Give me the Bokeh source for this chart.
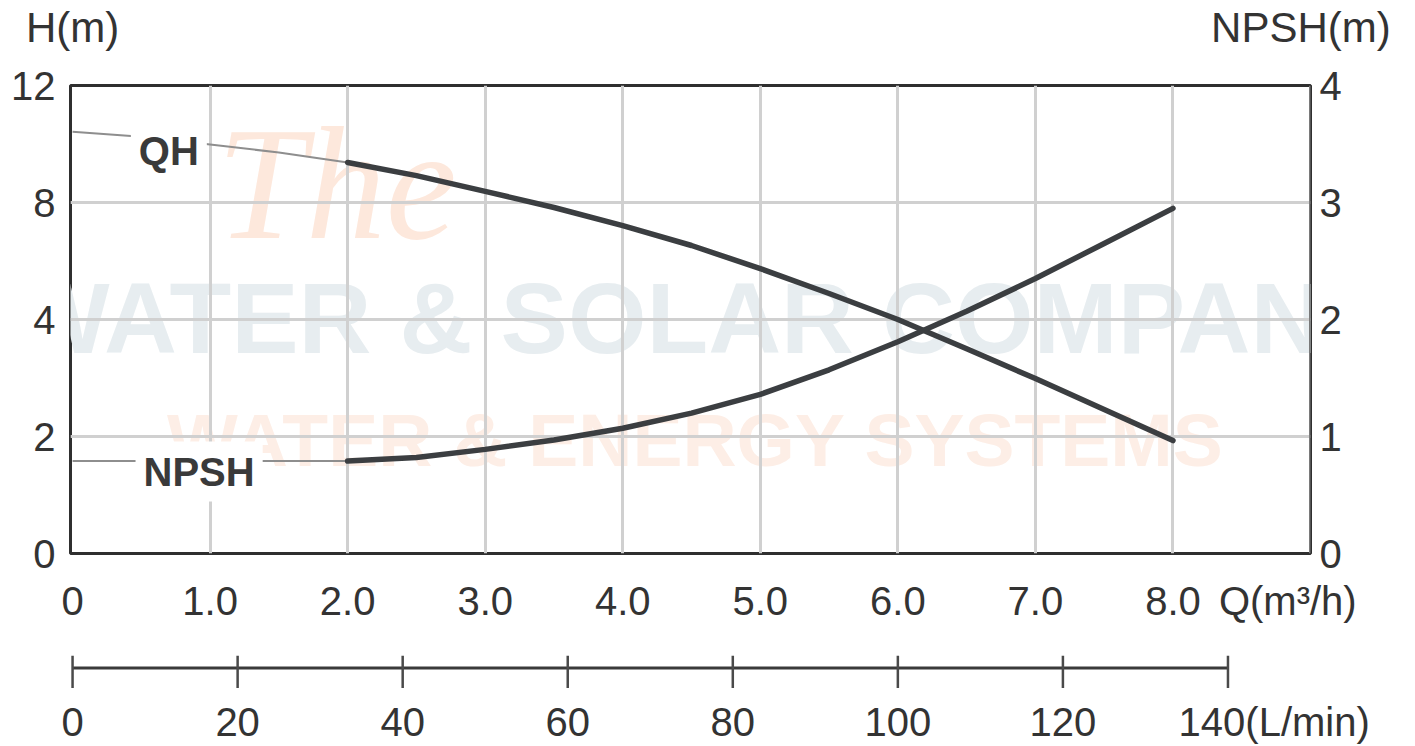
import numpy as np
from bokeh.plotting import figure
from bokeh.models import Range1d, LinearAxis, FixedTicker, Label, Span, Grid
from bokeh.layouts import column
from bokeh.embed import file_html
from bokeh.resources import INLINE

# Pump performance: flow in m³/h
flow = [0.0, 0.5, 1.0, 1.5, 2.0, 2.5, 3.0, 3.5, 4.0, 4.5, 5.0, 5.5, 6.0, 6.5, 7.0, 7.5, 8.0]
# Head H (m) along the QH curve
qh_head = [10.42, 10.25, 9.98, 9.71, 9.37, 8.92, 8.38, 7.83, 7.21, 6.53,
           5.74, 4.89, 4.00, 3.50, 2.99, 2.46, 1.93]
# Required NPSH (m)
npsh_req = [0.79, 0.79, 0.79, 0.79, 0.79, 0.82, 0.89, 0.97, 1.07, 1.20,
            1.36, 1.57, 1.81, 2.07, 2.35, 2.65, 2.95]

# Head axis labels sit on evenly spaced grid rows
head_ticks = [0, 2, 4, 8, 12]
npsh_ticks = [0, 1, 2, 3, 4]
flow_ticks = [0, 1, 2, 3, 4, 5, 6, 7, 8]
flow_tick_labels = ["0", "1.0", "2.0", "3.0", "4.0", "5.0", "6.0", "7.0", "8.0"]
lmin_ticks = [0, 20, 40, 60, 80, 100, 120, 140]

FONT = "Liberation Sans"
INK = "#333333"
CURVE = "#3b3e41"
THIN = "#8e8e8e"
LABEL_SIZE = "40px"

W = 1415
LEFT, RIGHT = 70, 105

grid_rows = list(range(len(head_ticks)))
qh_row = np.interp(qh_head, head_ticks, grid_rows)   # head -> grid row position
split = flow.index(2.0)

M3H_TO_LMIN = 1000.0 / 60.0
x_lo, x_hi = -0.015, 9.0

p = figure(width=W, height=630, x_range=Range1d(x_lo, x_hi), y_range=Range1d(0, 4),
           output_backend="svg", toolbar_location=None,
           x_axis_location=None, y_axis_location=None,
           min_border_left=LEFT, min_border_right=RIGHT, min_border_top=85, min_border_bottom=77,
           outline_line_color="#2f2f2f", outline_line_width=3,
           background_fill_color="white", border_fill_color="white")
p.center = [r for r in p.center if not isinstance(r, Grid)]


def style_axis(ax, standoff, size=LABEL_SIZE):
    ax.axis_line_color = None
    ax.major_tick_line_color = None
    ax.minor_tick_line_color = None
    ax.major_tick_in = 0
    ax.major_tick_out = 0
    ax.major_label_standoff = standoff
    ax.major_label_text_font = FONT
    ax.major_label_text_font_size = size
    ax.major_label_text_color = INK


# flow axis, with the unit written after the last value
q_unit_at = 8.835
bottom = LinearAxis(ticker=FixedTicker(ticks=flow_ticks + [q_unit_at]),
                    major_label_overrides={**dict(zip(flow_ticks, flow_tick_labels)),
                                           q_unit_at: "Q(m³/h)"})
style_axis(bottom, 25)
p.add_layout(bottom, "below")

left = LinearAxis(ticker=FixedTicker(ticks=grid_rows),
                  major_label_overrides={r: str(h) for r, h in zip(grid_rows, head_ticks)})
style_axis(left, 15)
p.add_layout(left, "left")

right = LinearAxis(ticker=FixedTicker(ticks=npsh_ticks))
style_axis(right, 9)
p.add_layout(right, "right")

# axis titles above the frame, over each vertical axis
title_pos = [0.0, 8.93]
titles = LinearAxis(ticker=FixedTicker(ticks=title_pos),
                    major_label_overrides=dict(zip(title_pos, ["H(m)", "NPSH(m)"])))
style_axis(titles, 35, "42px")
p.add_layout(titles, "above")

# grid
p.add_layout(Grid(dimension=0, ticker=FixedTicker(ticks=flow_ticks[1:]),
                  grid_line_color="#d0d0d0", grid_line_width=3))
p.add_layout(Grid(dimension=1, ticker=FixedTicker(ticks=npsh_ticks[1:-1]),
                  grid_line_color="#d0d0d0", grid_line_width=3))
p.add_layout(Span(location=x_hi, dimension="height", line_color="#7a7a7a", line_width=3))

# faint company watermark behind the chart
wm = [
    dict(text="WATER & SOLAR COMPANY", x=4.58, y=2.01, size="101px", color="#e7edf0", font=FONT, style="bold"),
    dict(text="WATER & ENERGY SYSTEMS", x=4.53, y=0.97, size="75px", color="#fdeee6", font=FONT, style="bold"),
    dict(text="The", x=1.92, y=3.16, size="160px", color="#fde8dc", font="Liberation Serif", style="italic"),
]
for w in wm:
    p.add_layout(Label(x=w["x"], y=w["y"], text=w["text"], text_font=w["font"],
                       text_font_size=w["size"], text_font_style=w["style"],
                       text_color=w["color"], text_align="center", text_baseline="middle",
                       level="image"))

# curves: thin lead-in up to 2.0 m³/h, heavy line beyond
p.line(flow[:split + 1], qh_row[:split + 1], line_color=THIN, line_width=2)
p.line(flow[split:], qh_row[split:], line_color=CURVE, line_width=5.5, line_cap="round")
p.line(flow[:split + 1], npsh_req[:split + 1], line_color=THIN, line_width=2)
p.line(flow[split:], npsh_req[split:], line_color=CURVE, line_width=5.5, line_cap="round")

for txt, x, y in [("QH", 0.70, 3.44), ("NPSH", 0.92, 0.70)]:
    p.add_layout(Label(x=x, y=y, text=txt, text_font=FONT, text_font_size=LABEL_SIZE,
                       text_font_style="bold", text_color="#3a3a3a",
                       text_align="center", text_baseline="middle",
                       background_fill_color="white", padding=8))

# second scale: the same flow expressed in L/min; y is measured in pixels from the scale line
q = figure(width=W, height=116,
           x_range=Range1d(x_lo * M3H_TO_LMIN, x_hi * M3H_TO_LMIN), y_range=Range1d(-26, 43),
           output_backend="svg", toolbar_location=None,
           x_axis_location=None, y_axis_location=None,
           min_border_left=LEFT, min_border_right=RIGHT, min_border_top=0, min_border_bottom=47,
           outline_line_color=None, background_fill_color="white", border_fill_color="white")
q.center = [r for r in q.center if not isinstance(r, Grid)]

q.line([lmin_ticks[0], lmin_ticks[-1]], [0, 0], line_color="#3a3a3a", line_width=3)
q.segment(x0=lmin_ticks, y0=[14] * len(lmin_ticks), x1=lmin_ticks, y1=[-23] * len(lmin_ticks),
          line_color="#4a4a4a", line_width=2.5)

# last value carries the unit; the label starts just left of its tick
lmin_unit_at = 145.6
scale_labels = LinearAxis(ticker=FixedTicker(ticks=lmin_ticks[:-1] + [lmin_unit_at]),
                          major_label_overrides={lmin_unit_at: f"{lmin_ticks[-1]}(L/min)"})
style_axis(scale_labels, 9)
q.add_layout(scale_labels, "below")

layout = column(p, q, spacing=0)
open("out.html", "w").write(file_html(layout, INLINE))
